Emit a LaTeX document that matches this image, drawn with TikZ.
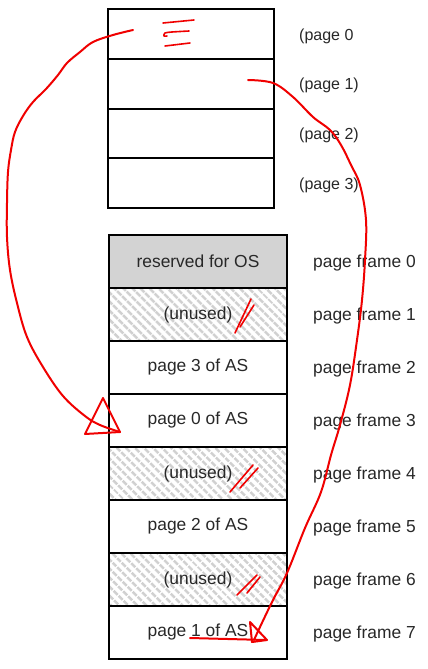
\documentclass[tikz,border=0pt]{standalone}
\usepackage{fontspec}
\setmainfont{Liberation Sans}
\usetikzlibrary{patterns.meta}
\definecolor{txt}{RGB}{40,40,40}
\definecolor{osgray}{RGB}{211,211,211}
\definecolor{hatch}{RGB}{208,208,208}
\definecolor{ink}{RGB}{240,0,0}
\begin{document}
\begin{tikzpicture}[x=1pt,y=-1pt,
  vrow/.style={draw=black,line width=1.5pt,minimum width=166pt,minimum height=50pt,inner sep=0pt,outer sep=0pt,anchor=north west},
  frow/.style={draw=black,line width=1.5pt,minimum width=178pt,minimum height=53pt,inner sep=0pt,outer sep=0pt,anchor=north west,font=\fontsize{17.4}{20}\selectfont,text=txt},
  osrow/.style={frow,fill=osgray},
  unrow/.style={frow,pattern={Lines[angle=-45,distance=6.5pt,line width=2.8pt]},pattern color=hatch},
  vlab/.style={anchor=west,font=\fontsize{16}{19}\selectfont,text=txt,inner sep=0pt},
  flab/.style={anchor=west,font=\fontsize{17.4}{20}\selectfont,text=txt,inner sep=0pt},
  pen/.style={draw=ink,line width=2pt,line cap=round,line join=round},
  thinpen/.style={pen,line width=1.6pt}]
\useasboundingbox[fill=white] (0,0) rectangle (428,669);
% virtual address space
\node[vrow] (v0) at (108,9) {};
\node[vrow] (v1) at (108,59) {};
\node[vrow] (v2) at (108,108.5) {};
\node[vrow] (v3) at (108,158) {};
\node[vlab] (vl0) at (299,36.5) {(page 0};
\node[vlab] (vl1) at (299,85.5) {(page 1)};
\node[vlab] (vl2) at (299,135.5) {(page 2)};
\node[vlab] (vl3) at (299,185.5) {(page 3)};
% physical memory
\node[osrow] (f0) at (109,235) {reserved for OS};
\node[unrow] (f1) at (109,288) {(unused)};
\node[frow] (f2) at (109,341) {page 3 of AS};
\node[frow] (f3) at (109,394) {page 0 of AS};
\node[unrow] (f4) at (109,447) {(unused)};
\node[frow] (f5) at (109,500) {page 2 of AS};
\node[unrow] (f6) at (109,553) {(unused)};
\node[frow] (f7) at (109,606) {page 1 of AS};
\foreach \i in {0,...,7}{
  \node[flab] (fl\i) at (313,263+53*\i) {page frame \i};
}
% red annotations
\coordinate (s1) at (133,30);
\coordinate (e1) at (120,432);
\draw[pen] plot[smooth,tension=0.6] coordinates {(s1) (113,35) (93,42) (80,52) (67,63) (58,75) (46,89) (33,102) (23,116) (15,132) (11,150) (8,172) (7,203) (7,237) (10,270) (17,303) (27,337) (43,367) (63,396) (85,416) (100,425) (e1)};
\draw[pen] (103,398) -- (85,434) -- (120,432) -- cycle;
\coordinate (s2) at (248,80);
\coordinate (e2) at (254,640);
\draw[pen] plot[smooth,tension=0.6] coordinates {(s2) (273,83) (293,97) (313,117) (330,130) (341,145) (351,165) (360,185) (366,220) (365,260) (362,300) (357,340) (350,385) (340,425) (331,455) (321,492) (305,528) (287,573) (273,600) (260,627) (e2)};
\draw[pen] (250,622) -- (252,642) -- (267,640) -- cycle;
\draw[pen] (190,638) -- (266,640);
% scribbles
\draw[thinpen] (163,23) -- (194,20);
\draw[thinpen] plot[smooth] coordinates {(189,31) (172,32) (165,33) (164,36) (167,36)};
\draw[thinpen] (165,46) -- (190,43);
\draw[thinpen] (251,299) -- (235,333);
\draw[thinpen] (254,305) -- (240,327);
\draw[thinpen] (253,465) -- (230,492);
\draw[thinpen] (258,468) -- (240,488);
\draw[thinpen] (257,575) -- (237,595);
\draw[thinpen] (260,577) -- (247,593);
\end{tikzpicture}
\end{document}
